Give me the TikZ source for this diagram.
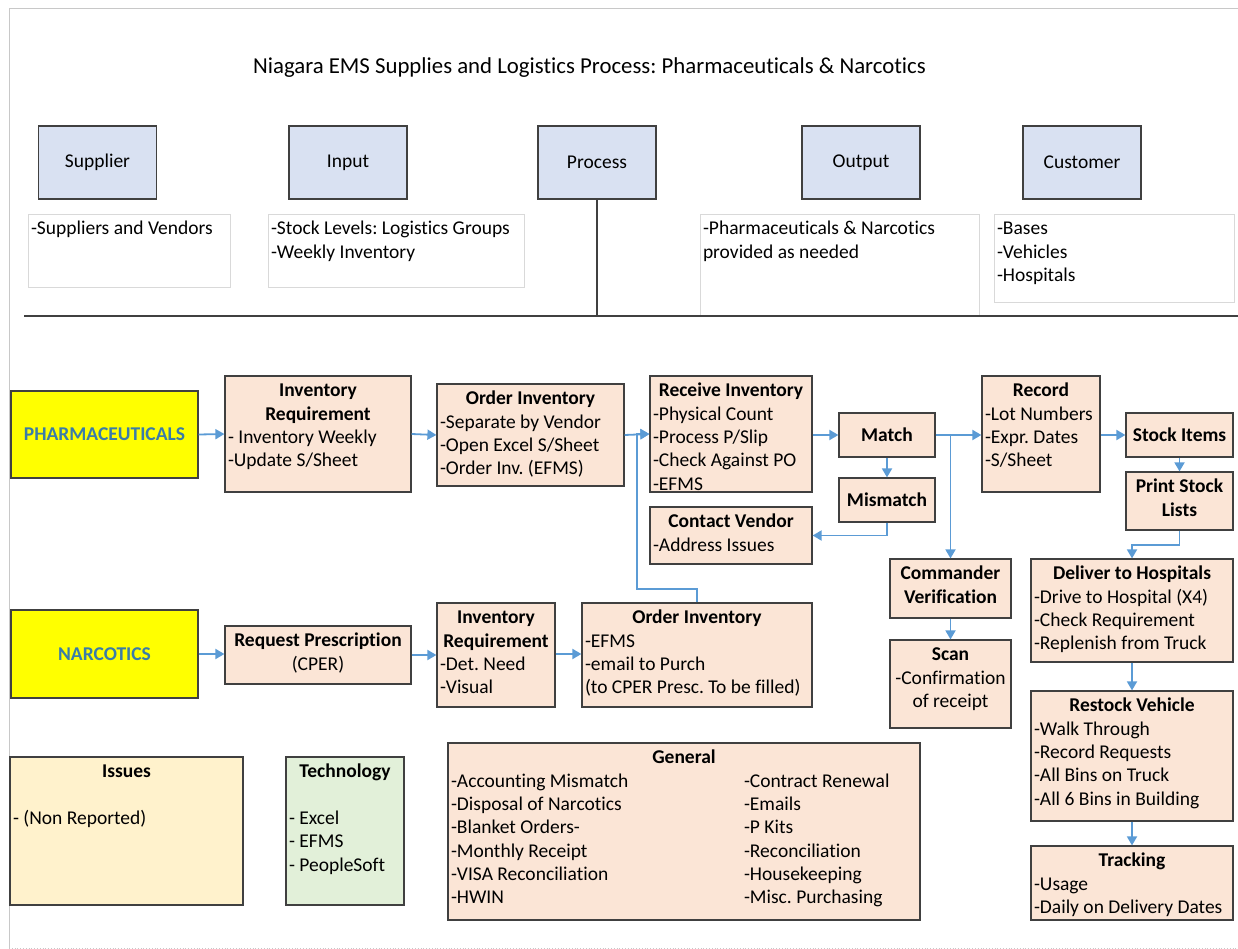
\documentclass[tikz,border=0pt]{standalone}
\usepackage{fontspec}
\setmainfont{Carlito}[Ligatures=NoCommon]
\usetikzlibrary{arrows.meta}
\frenchspacing

\definecolor{edge}{HTML}{404040}
\definecolor{bluefill}{HTML}{D9E1F2}
\definecolor{peach}{HTML}{FBE5D6}
\definecolor{hilite}{HTML}{FFFF00}
\definecolor{laneblue}{HTML}{3A7CA8}
\definecolor{flow}{HTML}{5B9BD5}
\definecolor{issuefill}{HTML}{FFF2CC}
\definecolor{techfill}{HTML}{E2F0D9}
\definecolor{softline}{HTML}{D9D9D9}
\definecolor{framegray}{HTML}{C8C8C8}

\newcommand\bodysize{\fontsize{19.5}{23.3}\selectfont}
\newcommand\ttl[1]{\makebox[\linewidth]{\bfseries #1}}
\newcommand\ctr[1]{\makebox[\linewidth]{#1}}
% box between corners (x1,y1) and (x2,y2); its text is set from the top
\newcommand\pbox[7]{%
  \pgfmathsetmacro\pw{#5-#3-6}%
  \pgfmathsetmacro\ph{#6-#4-2}%
  \node[#2, inner xsep=3pt, inner ysep=1pt] (#1) at ({(#3+#5)/2},{(#4+#6)/2})
    {\parbox[c][\ph pt][t]{\pw pt}{\frenchspacing\raggedright\rule{0pt}{19.8pt}#7}};}

\tikzset{
  stepbox/.style={draw=edge, fill=peach, line width=1.2pt},
  headbox/.style={draw=edge, fill=bluefill, line width=1.2pt,
    minimum width=118pt, minimum height=73pt, inner sep=0pt},
  notebox/.style={draw=softline, fill=white, line width=0.8pt},
  lanebox/.style={draw=edge, fill=hilite, line width=1.2pt,
    minimum width=187pt, minimum height=87pt, text=laneblue,
    font=\bodysize\bfseries},
  flowarrow/.style={draw=flow, line width=1.8pt,
    -{Triangle[length=9pt,width=10pt]}},
  axis/.style={draw=edge, line width=2.2pt},
}

\begin{document}
\begin{tikzpicture}[x=1pt, y=-1pt, font=\bodysize]
\useasboundingbox (0,0) rectangle (1238,949);

% page frame
\draw[framegray, line width=0.8pt] (1238,8) -- (9,8) -- (9,949);
\draw[framegray, line width=0.8pt, dotted] (9,948) -- (1238,948);

% heading
\node (title) at (589.5,67.5)
  {\fontsize{22.8}{27}\selectfont Niagara EMS Supplies and Logistics Process: Pharmaceuticals \& Narcotics};

% SIPOC header
\node[headbox] (supplier) at (97.5,162.5) {Supplier};
\node[headbox] (input)    at (348,162.5)  {Input};
\node[headbox] (process)  at (597,162.5)  {Process};
\node[headbox] (output)   at (861,162.5)  {Output};
\node[headbox] (customer) at (1082,162.5) {Customer};

\pbox{suppliernote}{notebox}{28}{214}{230}{287}{-Suppliers and Vendors}
\pbox{inputnote}{notebox}{268}{214}{524}{287}{-Stock Levels: Logistics Groups\\-Weekly Inventory}
\pbox{outputnote}{notebox}{700}{214}{979}{316}{-Pharmaceuticals \& Narcotics\\provided as needed}
\pbox{customernote}{notebox}{994}{214}{1234}{302}{-Bases\\-Vehicles\\-Hospitals}

\coordinate (baseline) at (24,316);
\draw[axis] (baseline) -- (1238,316);
\draw[axis] (process.south) -- (process.south |- baseline);

% lanes
\node[lanebox] (pharma) at (104.5,434.5) {PHARMACEUTICALS};
\node[lanebox, minimum height=88pt] (narc) at (104.5,654) {NARCOTICS};

% pharmaceuticals flow
\pbox{invreq}{stepbox}{225}{376}{411}{492}{\ttl{Inventory}\\\ttl{Requirement}\\- Inventory Weekly\\-Update S/Sheet}
\pbox{orderinv}{stepbox}{437}{384}{624}{486}{\ttl{Order Inventory}\\-Separate by Vendor\\-Open Excel S/Sheet\\-Order Inv. (EFMS)}
\pbox{receive}{stepbox}{650}{376}{812}{492}{\ttl{Receive Inventory}\\-Physical Count\\-Process P/Slip\\-Check Against PO\\-EFMS}
\node[stepbox, minimum width=96pt, minimum height=44pt, font=\bodysize\bfseries] (match) at (887,435) {Match};
\node[stepbox, minimum width=96pt, minimum height=44pt, font=\bodysize\bfseries] (mismatch) at (887,500) {Mismatch};
\pbox{contact}{stepbox}{650}{507}{812}{564}{\ttl{Contact Vendor}\\-Address Issues}
\pbox{record}{stepbox}{982}{376}{1100}{492}{\ttl{Record}\\-Lot Numbers\\-Expr. Dates\\-S/Sheet}
\node[stepbox, minimum width=107pt, minimum height=44pt, font=\bodysize\bfseries] (stock) at (1179.5,435) {Stock Items};
\pbox{print}{stepbox}{1126}{472}{1233}{530}{\ttl{Print Stock}\\\ttl{Lists}}
\pbox{commander}{stepbox}{890}{559}{1011}{618}{\ttl{Commander}\\\ttl{Verification}}
\pbox{scan}{stepbox}{890}{640}{1011}{728}{\ttl{Scan}\\\ctr{-Confirmation}\\\ctr{of receipt}}
\pbox{deliver}{stepbox}{1031}{559}{1233}{662}{\ttl{Deliver to Hospitals}\\-Drive to Hospital (X4)\\-Check Requirement\\-Replenish from Truck}
\pbox{restock}{stepbox}{1031}{691}{1233}{821}{\ttl{Restock Vehicle}\\-Walk Through\\-Record Requests\\-All Bins on Truck\\-All 6 Bins in Building}
\pbox{tracking}{stepbox}{1031}{846}{1233}{920}{\ttl{Tracking}\\-Usage\\-Daily on Delivery Dates}

% narcotics flow
\pbox{presc}{stepbox}{225}{626}{411}{684}{\ttl{Request Prescription}\\\ctr{(CPER)}}
\pbox{narcreq}{stepbox}{437}{603}{555}{707}{\ttl{Inventory}\\\ttl{Requirement}\\-Det. Need\\-Visual}
\pbox{narcorder}{stepbox}{582}{603}{812}{707}{\ttl{Order Inventory}\\-EFMS\\-email to Purch\\(to CPER Presc. To be filled)}

% notes
\pbox{issues}{stepbox, fill=issuefill}{10}{757}{243}{905}{\ttl{Issues}\\[23.3pt]- (Non Reported)}
\pbox{tech}{stepbox, fill=techfill}{286}{757}{404}{905}{\ttl{Technology}\\[23.3pt]- Excel\\- EFMS\\- PeopleSoft}
\pbox{general}{stepbox}{448}{743}{920}{920}{\ttl{General}\\
  \makebox[293pt][l]{-Accounting Mismatch}-Contract Renewal\\
  \makebox[293pt][l]{-Disposal of Narcotics}-Emails\\
  \makebox[293pt][l]{-Blanket Orders-}-P Kits\\
  \makebox[293pt][l]{-Monthly Receipt}-Reconciliation\\
  \makebox[293pt][l]{-VISA Reconciliation}-Housekeeping\\
  \makebox[293pt][l]{-HWIN}-Misc. Purchasing}

% connectors
\draw[flowarrow] (pharma.east) -- (invreq.west);
\draw[flowarrow] (invreq.west -| invreq.east) -- (orderinv.west);
\draw[flowarrow] (orderinv.east) -- (receive.west);
\draw[flowarrow] (receive.east |- match.west) -- (match.west);
\draw[flowarrow] (match.south) -- (mismatch.north);
\draw[flowarrow] (mismatch.south) |- (contact.east);
\draw[flowarrow] (match.east) -- (record.west |- match.east);
\draw[flowarrow] (commander.north |- match.east) -- (commander.north);
\draw[flowarrow] (record.east |- stock.west) -- (stock.west);
\draw[flowarrow] (stock.south) -- (print.north);
\draw[flowarrow] (print.south) -- ++(0,14) -| (deliver.north);
\draw[flowarrow] (deliver.south) -- (restock.north);
\draw[flowarrow] (restock.south) -- (tracking.north);
\draw[flowarrow] (commander.south) -- (scan.north);

\draw[flowarrow] (narc.east) -- (narc.east -| presc.west);
\draw[flowarrow] (presc.east) -- (presc.east -| narcreq.west);
\draw[flowarrow] (narcreq.east |- narc.east) -- (narcorder.west |- narc.east);
\coordinate (bend) at (637,589);
\draw[flowarrow] (narcorder.north) |- (bend) -- (bend |- receive.west) -- (receive.west);
\end{tikzpicture}
\end{document}
